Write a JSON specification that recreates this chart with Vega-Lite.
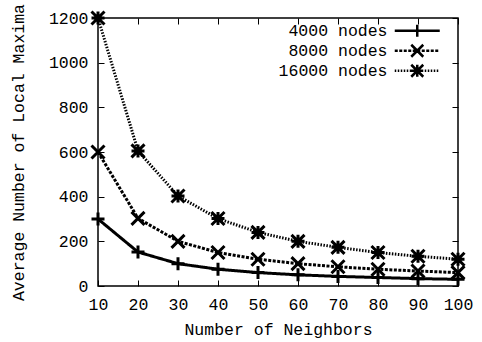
{
  "$schema": "https://vega.github.io/schema/vega-lite/v6.json",
  "width": 360,
  "height": 268,
  "autosize": "none",
  "padding": {"left": 98, "top": 18, "right": 24, "bottom": 56},
  "background": "white",
  "config": {
    "view": {"stroke": "black", "strokeWidth": 1.5},
    "font": "Liberation Mono",
    "axis": {
      "labelFont": "Liberation Mono",
      "titleFont": "Liberation Mono",
      "labelFontSize": 16.5,
      "titleFontSize": 16.5,
      "titleFontWeight": "normal",
      "labelColor": "black",
      "titleColor": "black",
      "tickColor": "black",
      "domain": false,
      "grid": false,
      "tickSize": -6,
      "tickWidth": 1,
      "labelFlush": false,
      "labelOverlap": false,
      "format": "d"
    },
    "legend": {
      "labelFont": "Liberation Mono",
      "labelFontSize": 16.5,
      "labelColor": "black",
      "padding": 0
    }
  },
  "data": {
    "values": [
      {"k": 10, "series": "4000 nodes", "v": 300},
      {"k": 20, "series": "4000 nodes", "v": 152},
      {"k": 30, "series": "4000 nodes", "v": 100},
      {"k": 40, "series": "4000 nodes", "v": 75},
      {"k": 50, "series": "4000 nodes", "v": 60},
      {"k": 60, "series": "4000 nodes", "v": 50},
      {"k": 70, "series": "4000 nodes", "v": 43},
      {"k": 80, "series": "4000 nodes", "v": 38},
      {"k": 90, "series": "4000 nodes", "v": 33},
      {"k": 100, "series": "4000 nodes", "v": 30},
      {"k": 10, "series": "8000 nodes", "v": 600},
      {"k": 20, "series": "8000 nodes", "v": 303},
      {"k": 30, "series": "8000 nodes", "v": 200},
      {"k": 40, "series": "8000 nodes", "v": 150},
      {"k": 50, "series": "8000 nodes", "v": 120},
      {"k": 60, "series": "8000 nodes", "v": 100},
      {"k": 70, "series": "8000 nodes", "v": 86},
      {"k": 80, "series": "8000 nodes", "v": 75},
      {"k": 90, "series": "8000 nodes", "v": 67},
      {"k": 100, "series": "8000 nodes", "v": 60},
      {"k": 10, "series": "16000 nodes", "v": 1200},
      {"k": 20, "series": "16000 nodes", "v": 605},
      {"k": 30, "series": "16000 nodes", "v": 403},
      {"k": 40, "series": "16000 nodes", "v": 302},
      {"k": 50, "series": "16000 nodes", "v": 240},
      {"k": 60, "series": "16000 nodes", "v": 200},
      {"k": 70, "series": "16000 nodes", "v": 173},
      {"k": 80, "series": "16000 nodes", "v": 150},
      {"k": 90, "series": "16000 nodes", "v": 133},
      {"k": 100, "series": "16000 nodes", "v": 120}
    ]
  },
  "resolve": {"axis": {"x": "independent", "y": "independent"}, "scale": {"shape": "independent"}},
  "layer": [
    {
      "mark": {"type": "line", "color": "black", "interpolate": "linear"},
      "encoding": {
        "x": {"field": "k", "type": "quantitative", "scale": {"domain": [10, 100], "nice": false},
              "axis": {"values": [10,20,30,40,50,60,70,80,90,100], "title": "Number of Neighbors", "labelPadding": 16, "titlePadding": 9}},
        "y": {"field": "v", "type": "quantitative", "scale": {"domain": [0, 1200], "nice": false},
              "axis": {"values": [0,200,400,600,800,1000,1200], "title": "Average Number of Local Maxima", "labelPadding": 16, "titlePadding": 22}},
        "detail": {"field": "series"},
        "strokeDash": {"field": "series", "type": "nominal", "scale": {"domain": ["4000 nodes","8000 nodes","16000 nodes"], "range": [[1,0],[3,1.5],[1.5,1.5]]}, "legend": null},
        "strokeWidth": {"field": "series", "type": "nominal", "scale": {"domain": ["4000 nodes","8000 nodes","16000 nodes"], "range": [3,3,2.5]}, "legend": null}
      }
    },
    {
      "mark": {"type": "point", "filled": false, "color": "black", "strokeWidth": 3, "size": 169, "opacity": 1},
      "encoding": {
        "x": {"field": "k", "type": "quantitative", "axis": {"orient": "top", "values": [10,20,30,40,50,60,70,80,90,100], "labels": false, "title": null}},
        "y": {"field": "v", "type": "quantitative", "axis": {"orient": "right", "values": [0,200,400,600,800,1000,1200], "labels": false, "title": null}},
        "shape": {"field": "series", "type": "nominal",
                  "scale": {"domain": ["4000 nodes","8000 nodes","16000 nodes"],
                            "range": ["M-1,0L1,0M0,-1L0,1", "M-1,-1L1,1M-1,1L1,-1", "M-1,0L1,0M0,-1L0,1M-1,-1L1,1M-1,1L1,-1"]},
                  "legend": null}
      }
    },
    {
      "mark": {"type": "point", "filled": false, "color": "black", "strokeWidth": 2.5, "size": 144, "opacity": 0},
      "encoding": {
        "x": {"field": "k", "type": "quantitative", "axis": null},
        "y": {"field": "v", "type": "quantitative", "axis": null},
        "shape": {"field": "series", "type": "nominal",
                  "scale": {"domain": ["4000 nodes","8000 nodes","16000 nodes"],
                            "range": [
                              "M-3.75,0L3.75,0M-1,0L1,0M0,-1L0,1",
                              "M-3.75,0L-3.25,0M-3,0L-2.5,0M-2.25,0L-1.75,0M-1.5,0L-1,0M-0.75,0L-0.25,0M0,0L0.5,0M0.75,0L1.25,0M1.5,0L2,0M2.25,0L2.75,0M3,0L3.5,0M-1,-1L1,1M-1,1L1,-1",
                              "M-3.75,0L-3.5,0M-3.25,0L-3,0M-2.75,0L-2.5,0M-2.25,0L-2,0M-1.75,0L-1.5,0M-1.25,0L-1,0M-0.75,0L-0.5,0M-0.25,0L0,0M0.25,0L0.5,0M0.75,0L1,0M1.25,0L1.5,0M1.75,0L2,0M2.25,0L2.5,0M2.75,0L3,0M3.25,0L3.5,0M-1,0L1,0M0,-1L0,1M-1,-1L1,1M-1,1L1,-1"
                            ]},
                  "legend": {
                    "orient": "none",
                    "legendX": 311,
                    "legendY": 4.5,
                    "title": null,
                    "labelAlign": "right",
                    "labelOffset": -38,
                    "symbolSize": 144,
                    "symbolStrokeWidth": 2.5,
                    "symbolStrokeColor": "black",
                    "symbolOpacity": 1,
                    "rowPadding": -6,
                    "encode": {"symbols": {"update": {"opacity": {"value": 1}, "stroke": {"value": "black"}}}}
                  }}
      }
    }
  ]
}
